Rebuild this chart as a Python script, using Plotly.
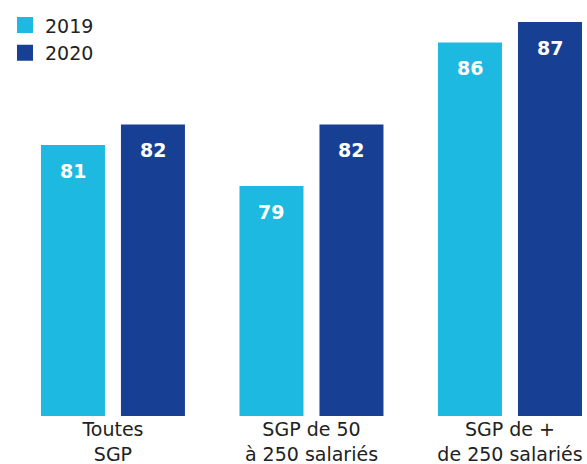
import plotly.graph_objects as go

categories = ["Toutes<br>SGP", "SGP de 50<br>à 250 salariés", "SGP de +<br>de 250 salariés"]
values_2019 = [81, 79, 86]
values_2020 = [82, 82, 87]
series_names = ["2019", "2020"]

color_2019 = "#1EB9E0"
color_2020 = "#173F94"
font_family = "'DejaVu Sans', sans-serif"

fig = go.Figure()
series = [(series_names[0], values_2019, color_2019),
          (series_names[1], values_2020, color_2020)]
for name, vals, col in series:
    fig.add_trace(go.Bar(name=name, x=categories, y=vals, marker_color=col,
                         marker_line_width=0, offsetgroup=name,
                         legendgroup=name, showlegend=False))
# legend entries (larger square swatches)
for name, vals, col in series:
    fig.add_trace(go.Scatter(name=name, x=[None], y=[None], mode="markers",
                             marker=dict(symbol="square", size=16, color=col),
                             legendgroup=name, showlegend=True))

# value labels inside bars near the top
for i, vals in enumerate([values_2019, values_2020]):
    shift = -40 if i == 0 else 40
    for c, v in zip(categories, vals):
        fig.add_annotation(x=c, y=v, text=f"<b>{v}</b>", showarrow=False,
                           xshift=shift, yshift=-26, yanchor="middle",
                           font=dict(color="white", size=19, family=font_family))

fig.update_layout(
    width=587, height=464,
    margin=dict(l=0, r=0, t=0, b=48),
    paper_bgcolor="white", plot_bgcolor="white",
    barmode="group", bargap=0.194, bargroupgap=0.2,
    font=dict(family=font_family, color="#222222", size=19),
    showlegend=True,
    legend=dict(x=0.0085, y=0.985, xanchor="left", yanchor="top",
                font=dict(size=19), bgcolor="rgba(0,0,0,0)", tracegroupgap=0,
                itemwidth=30, itemsizing="trace"),
    xaxis=dict(range=[-0.569, 2.388], showgrid=False, showline=False,
               zeroline=False, ticks="", tickfont=dict(size=19),
               automargin=False),
    yaxis=dict(range=[67.78, 88.07], visible=False),
)

fig.write_html("out.html", config={"displayModeBar": False},
               post_script="document.body.style.margin='0';document.body.style.overflow='hidden';")
